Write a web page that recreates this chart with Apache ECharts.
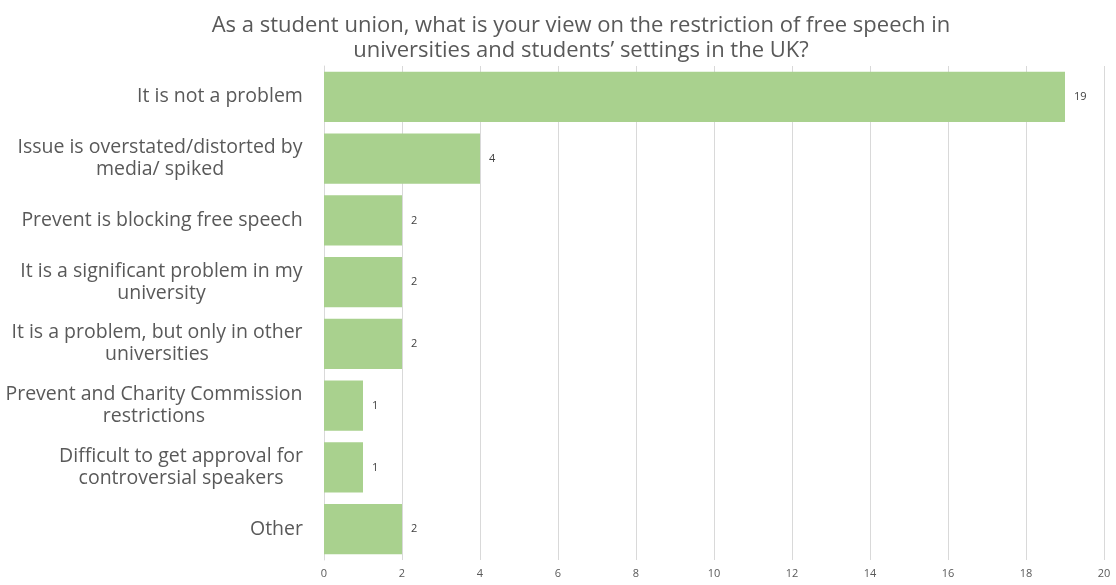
<!DOCTYPE html>
<html>
<head>
<meta charset="utf-8">
<script src="https://cdn.jsdelivr.net/npm/echarts@6/dist/echarts.min.js"></script>
<style>
  html, body { margin: 0; padding: 0; background: #ffffff; }
  #chart { width: 1116px; height: 585px; }
</style>
</head>
<body>
<div id="chart"></div>
<script>
// Survey responses, listed top to bottom
const categories = [
  'It is not a problem',
  'Issue is overstated/distorted by\nmedia/ spiked',
  'Prevent is blocking free speech',
  'It is a significant problem in my\nuniversity',
  'It is a problem, but only in other\nuniversities',
  'Prevent and Charity Commission\nrestrictions',
  'Difficult to get approval for\ncontroversial speakers',
  'Other'
];
const counts = [19, 4, 2, 2, 2, 1, 1, 2];
const xTicks = [0, 2, 4, 6, 8, 10, 12, 14, 16, 18, 20];

const LABEL_FONT = 'Open Sans, sans-serif';
const LABEL_SIZE = 19.5;

// Measure each label's widest line so its lines can be centred within a
// block that is right-aligned against the axis.
const ctx = document.createElement('canvas').getContext('2d');
ctx.font = LABEL_SIZE + 'px ' + LABEL_FONT;
const rich = {};
categories.forEach((c, i) => {
  const w = Math.max(...c.split('\n').map(s => ctx.measureText(s).width));
  rich['r' + i] = {
    width: Math.ceil(w),
    align: 'center',
    fontSize: LABEL_SIZE,
    lineHeight: 22,
    fontFamily: LABEL_FONT,
    color: '#595959'
  };
});

const chart = echarts.init(document.getElementById('chart'));
chart.setOption({
  animation: false,
  backgroundColor: '#ffffff',
  title: {
    text: 'As a student union, what is your view on the restriction of free speech in\nuniversities and students\u2019 settings in the UK?',
    left: 576,
    textAlign: 'center',
    top: 8,
    textStyle: {
      fontFamily: 'Open Sans, sans-serif',
      fontWeight: 'normal',
      fontSize: 22,
      lineHeight: 25,
      color: '#595959'
    }
  },
  grid: { left: 324, right: 12, top: 66, bottom: 25, containLabel: false },
  xAxis: {
    type: 'value',
    min: 0,
    max: 20,
    interval: 2,
    axisLine: { show: false },
    axisTick: { show: false },
    splitLine: { show: true, lineStyle: { color: '#d9d9d9', width: 1 } },
    axisLabel: {
      margin: 8,
      color: '#595959',
      fontSize: 11,
      fontFamily: 'Open Sans, sans-serif',
      formatter: v => xTicks.includes(v) ? String(v) : ''
    }
  },
  yAxis: {
    type: 'category',
    inverse: true,
    data: categories,
    axisLine: { show: true, lineStyle: { color: '#d9d9d9' } },
    axisTick: { show: false },
    axisLabel: {
      margin: 21,
      align: 'right',
      rich: rich,
      formatter: (v, i) => v.split('\n').map(s => '{r' + i + '|' + s + '}').join('\n')
    }
  },
  series: [{
    type: 'bar',
    data: counts,
    barCategoryGap: '19%',
    itemStyle: { color: '#a9d18e' },
    label: {
      show: true,
      position: 'right',
      distance: 9,
      color: '#404040',
      fontSize: 11,
      fontFamily: 'Open Sans, sans-serif'
    }
  }]
});
</script>
</body>
</html>
